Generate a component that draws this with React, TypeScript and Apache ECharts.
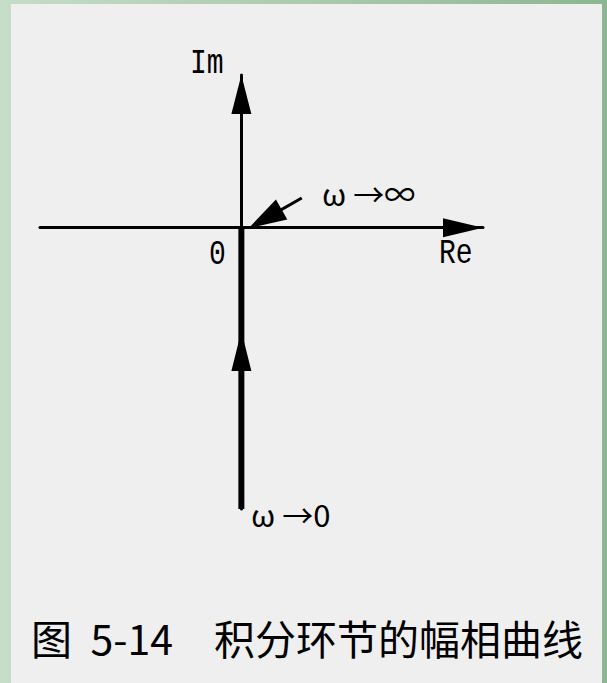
import React, { useEffect, useRef } from "react";
import * as echarts from "echarts";

// Axis extents (Re, Im)
const reRange: number[] = [-5, 6];
const imRange: number[] = [-7, 3.8];
// Nyquist curve of the integrator 1/(jω): negative imaginary axis, ω→0 at bottom, ω→∞ at origin
const curveRe: number[] = [0, 0];
const curveIm: number[] = [-7, 0];
// direction arrow on the curve (increasing ω)
const directionArrowPoint: number[] = [0, -3.07];
// pointer to origin for ω→∞
const pointerFrom: number[] = [1.5, 0.74];
const pointerTo: number[] = [0.59, 0.22];
// texts
const axisNames: string[] = ["Re", "Im", "0"];
const freqLabels: string[] = ["ω →∞", "ω →0"];
const caption = "图  5-14　积分环节的幅相曲线";

export default function App() {
  const ref = useRef<HTMLDivElement>(null);
  useEffect(() => {
    if (!ref.current) return;
    const chart = echarts.init(ref.current, undefined, { renderer: "svg" });
    const monoFont = '28px "Liberation Mono", monospace';
    const cjkFont = '31px "Noto Sans CJK SC", sans-serif';
    const curveData = curveRe.map((r, i) => [r, curveIm[i]]);
    chart.setOption({
      animation: false,
      backgroundColor: "transparent",
      grid: { left: 40, right: 124, top: 75, bottom: 174 },
      xAxis: {
        type: "value",
        min: reRange[0],
        max: reRange[1],
        axisLine: {
          show: true,
          onZero: true,
          lineStyle: { color: "#000", width: 3 },
          symbol: ["none", "triangle"],
          symbolSize: [19, 40],
          symbolOffset: [0, -20],
        },
        axisTick: { show: false },
        axisLabel: { show: false },
        splitLine: { show: false },
      },
      yAxis: {
        type: "value",
        min: imRange[0],
        max: imRange[1],
        axisLine: {
          show: true,
          onZero: true,
          lineStyle: { color: "#000", width: 3 },
          symbol: ["none", "triangle"],
          symbolSize: [20, 39],
          symbolOffset: [0, -19.5],
        },
        axisTick: { show: false },
        axisLabel: { show: false },
        splitLine: { show: false },
      },
      series: [
        {
          type: "line",
          data: curveData,
          symbol: "none",
          silent: true,
          lineStyle: { color: "#000", width: 6 },
          markLine: {
            silent: true,
            symbol: ["none", "triangle"],
            symbolSize: [23, 38],
            label: { show: false },
            lineStyle: { color: "#000", width: 3, type: "solid", opacity: 1 },
            data: [[{ coord: pointerFrom }, { coord: pointerTo }]],
          },
        },
        {
          type: "scatter",
          data: [directionArrowPoint],
          symbol: "triangle",
          symbolSize: [20, 40],
          silent: true,
          itemStyle: { color: "#000", opacity: 1 },
        },
      ],
      graphic: [
        { type: "text", x: 439, y: 254, scaleY: 1.25, style: { text: axisNames[0], font: monoFont, fill: "#000", textVerticalAlign: "middle" } },
        { type: "text", x: 190, y: 64, scaleY: 1.25, style: { text: axisNames[1], font: monoFont, fill: "#000", textVerticalAlign: "middle" } },
        { type: "text", x: 209, y: 255, scaleY: 1.25, style: { text: axisNames[2], font: monoFont, fill: "#000", textVerticalAlign: "middle" } },
        { type: "text", x: 322, y: 192, style: { text: freqLabels[0], font: cjkFont, fill: "#000", textVerticalAlign: "middle" } },
        { type: "text", x: 251, y: 513, style: { text: freqLabels[1], font: cjkFont, fill: "#000", textVerticalAlign: "middle" } },
        { type: "text", x: 307, y: 637, style: { text: caption, font: '41px "Noto Sans CJK SC", sans-serif', fill: "#000", textAlign: "center", textVerticalAlign: "middle" } },
      ],
    });
    return () => chart.dispose();
  }, []);
  return (
    <div
      ref={ref}
      style={{
        position: "absolute",
        left: 0,
        top: 0,
        width: 607,
        height: 683,
        background:
          "linear-gradient(#efefef, #efefef) 11px 4px / 591px 679px no-repeat, linear-gradient(to right, #c6ddc8, #a8c9ab 55%, #8cb692)",
      }}
    />
  );
}
